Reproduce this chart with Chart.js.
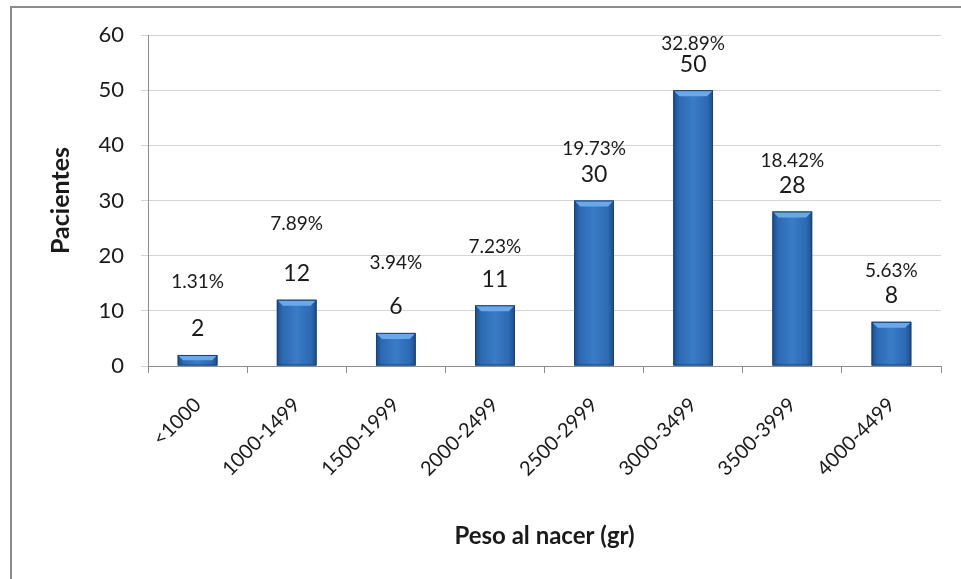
<!DOCTYPE html>
<html>
<head>
<meta charset="utf-8">
<script src="https://cdn.jsdelivr.net/npm/chart.js@4.4.0/dist/chart.umd.min.js"></script>
<style>
  html, body { margin: 0; padding: 0; background: #fff; overflow: hidden; }
  #wrap { position: relative; width: 961px; height: 579px; }
  #frame { position: absolute; left: 10px; top: 6px; width: 1000px; height: 700px; border: 2px solid #8c8c8c; }
  #c { position: absolute; left: 0; top: 0; }
</style>
</head>
<body>
<div id="wrap">
  <div id="frame"></div>
  <canvas id="c" width="961" height="579"></canvas>
</div>
<script>
// data
const categories = ['<1000', '1000-1499', '1500-1999', '2000-2499', '2500-2999', '3000-3499', '3500-3999', '4000-4499'];
const pacientes = [2, 12, 6, 11, 30, 50, 28, 8];
const porcentajes = [1.31, 7.89, 3.94, 7.23, 19.73, 32.89, 18.42, 5.63];
const yMax = 60;
const yStep = 10;

const FONT = 'Lato, "Open Sans", sans-serif';

// 3d-ish bevel look on top of the plain bars
const bevelBars = {
  id: 'bevelBars',
  afterDatasetsDraw(chart) {
    const ctx = chart.ctx;
    const meta = chart.getDatasetMeta(0);
    ctx.save();
    meta.data.forEach(bar => {
      const x0 = bar.x - bar.width / 2, x1 = bar.x + bar.width / 2;
      const top = bar.y, base = bar.base;
      const g = ctx.createLinearGradient(x0, 0, x1, 0);
      g.addColorStop(0, '#1d4c88');
      g.addColorStop(0.14, '#2c69b2');
      g.addColorStop(0.5, '#3a7cc7');
      g.addColorStop(0.86, '#2c69b2');
      g.addColorStop(1, '#1d4c88');
      ctx.fillStyle = g;
      ctx.fillRect(x0, top, x1 - x0, base - top);
      const b = Math.min(6, (base - top) / 2);
      ctx.fillStyle = '#6aa8ea';
      ctx.beginPath();
      ctx.moveTo(x0, top); ctx.lineTo(x1, top);
      ctx.lineTo(x1 - b, top + b); ctx.lineTo(x0 + b, top + b);
      ctx.closePath(); ctx.fill();
      ctx.strokeStyle = '#1b416f';
      ctx.lineWidth = 1;
      ctx.strokeRect(x0 + 0.5, top + 0.5, x1 - x0 - 1, base - top - 1);
    });
    ctx.restore();
  }
};

// value + percentage above each bar
const barLabels = {
  id: 'barLabels',
  afterDatasetsDraw(chart, args, opts) {
    const ctx = chart.ctx;
    const meta = chart.getDatasetMeta(0);
    ctx.save();
    ctx.textAlign = 'center';
    ctx.textBaseline = 'middle';
    ctx.fillStyle = '#1a1a1a';
    meta.data.forEach((bar, i) => {
      const ny = bar.y - opts.numLift;
      ctx.font = '23px ' + FONT;
      ctx.fillText(String(pacientes[i]), bar.x, ny);
      ctx.font = '19px ' + FONT;
      ctx.fillText(porcentajes[i].toFixed(2) + '%', bar.x, ny - opts.pctGap[i]);
    });
    ctx.restore();
  }
};

new Chart(document.getElementById('c'), {
  type: 'bar',
  data: {
    labels: categories,
    datasets: [{
      data: pacientes,
      backgroundColor: '#2e6db5',
      barPercentage: 0.5,
      categoryPercentage: 0.8
    }]
  },
  plugins: [bevelBars, barLabels],
  options: {
    responsive: false,
    animation: false,
    layout: { padding: { left: 46, right: 20, top: 35, bottom: 28 } },
    plugins: {
      legend: { display: false },
      tooltip: { enabled: false },
      barLabels: { numLift: 26, pctGap: [47, 50, 44, 32, 26, 20, 25, 25] }
    },
    scales: {
      x: {
        afterFit(scale) { scale.height = 185; },
        grid: { offset: true, drawOnChartArea: false, drawTicks: true, tickLength: 7, color: '#8c8c8c' },
        border: { color: '#8c8c8c' },
        ticks: {
          color: '#1a1a1a', font: { family: FONT, size: 20 },
          minRotation: 45, maxRotation: 45, padding: 20, autoSkip: false
        },
        title: {
          display: true, text: 'Peso al nacer (gr)', color: '#1a1a1a',
          font: { family: FONT, size: 24, weight: 'bold' }, padding: { top: 0, bottom: 0 }
        }
      },
      y: {
        min: 0, max: yMax,
        afterFit(scale) { scale.width = 102; },
        grid: { color: '#d4d4d4', tickLength: 7, drawTicks: true },
        border: { color: '#8c8c8c' },
        ticks: { stepSize: yStep, color: '#1a1a1a', font: { family: FONT, size: 22 }, padding: 17 },
        title: {
          display: true, text: 'Pacientes', color: '#1a1a1a',
          font: { family: FONT, size: 25, weight: 'bold' }, padding: { top: 0, bottom: 4 }
        }
      }
    }
  }
});
</script>
</body>
</html>
